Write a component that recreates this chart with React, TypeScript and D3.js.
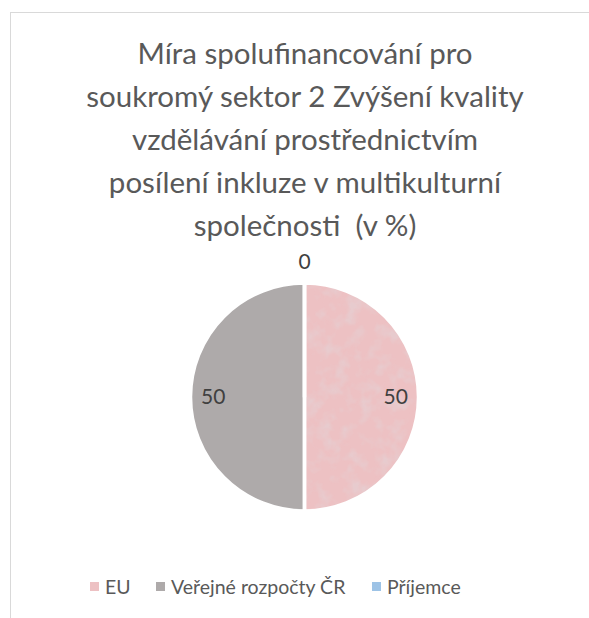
import { useEffect, useRef } from "react"
import * as d3 from "d3"

const titleLines = [
  "Míra spolufinancování pro",
  "soukromý sektor 2 Zvýšení kvality",
  "vzdělávání prostřednictvím",
  "posílení inkluze v multikulturní",
  "společnosti  (v %)",
]
const categories = ["EU", "Veřejné rozpočty ČR", "Příjemce"]
const values = [50, 50, 0]
const colors = ["#edc1c3", "#aeaaaa", "#9dc3e6"]

const W = 589
const H = 618

export default function App() {
  const svgRef = useRef<SVGSVGElement>(null)

  useEffect(() => {
    if (!svgRef.current) return
    const svg = d3.select(svgRef.current)
    svg.selectAll("*").remove()

    const font = "Lato, 'Open Sans', sans-serif"

    // textura pro EU
    const defs = svg.append("defs")
    const filter = defs.append("filter").attr("id", "tex").attr("x", 0).attr("y", 0).attr("width", 1).attr("height", 1)
    filter
      .append("feTurbulence")
      .attr("type", "fractalNoise")
      .attr("baseFrequency", 0.07)
      .attr("numOctaves", 3)
      .attr("seed", 4)
      .attr("result", "noise")
    filter
      .append("feColorMatrix")
      .attr("in", "noise")
      .attr("type", "matrix")
      .attr("values", "0 0 0 0 0.80  0 0 0 0 0.60  0 0 0 0 0.62  0 0 0 -2.6 1.45")
      .attr("result", "spots")
    filter.append("feComposite").attr("in", "spots").attr("in2", "SourceGraphic").attr("operator", "in").attr("result", "clip")
    const merge = filter.append("feMerge")
    merge.append("feMergeNode").attr("in", "SourceGraphic")
    merge.append("feMergeNode").attr("in", "clip")

    // rámeček
    svg
      .append("rect")
      .attr("x", 10.5)
      .attr("y", 12.5)
      .attr("width", W + 20)
      .attr("height", H + 20)
      .attr("fill", "#fff")
      .attr("stroke", "#d9d9d9")
      .attr("stroke-width", 1)

    // titulek
    svg
      .append("g")
      .selectAll("text")
      .data(titleLines)
      .enter()
      .append("text")
      .attr("x", 305)
      .attr("y", (d, i) => 64 + i * 43)
      .attr("text-anchor", "middle")
      .attr("fill", "#595959")
      .style("font-family", font)
      .style("font-size", "29.5px")
      .style("white-space", "pre")
      .text((d) => d)

    const cx = 304.5
    const cy = 397
    const radius = 114

    const pie = d3.pie<number>().value((d) => d).sort(null)
    const arcs = pie(values)
    const arc = d3.arc<d3.PieArcDatum<number>>().innerRadius(0).outerRadius(radius)
    const labelArc = d3.arc<d3.PieArcDatum<number>>().innerRadius(radius * 0.8).outerRadius(radius * 0.8)

    const g = svg.append("g").attr("transform", `translate(${cx},${cy})`)

    g.selectAll("path.slice")
      .data(arcs)
      .enter()
      .append("path")
      .attr("class", "slice")
      .attr("d", arc)
      .attr("fill", (d, i) => colors[i])
      .attr("filter", (d, i) => (i === 0 ? "url(#tex)" : null))

    g.selectAll("path.edge")
      .data(arcs)
      .enter()
      .append("path")
      .attr("class", "edge")
      .attr("d", arc)
      .attr("fill", "none")
      .attr("stroke", "#fff")
      .attr("stroke-width", 3.5)
      .attr("stroke-linejoin", "round")

    g.selectAll("text.lbl")
      .data(arcs)
      .enter()
      .append("text")
      .attr("class", "lbl")
      .attr("transform", (d) => {
        if (d.data === 0) {
          const a = d.startAngle
          return `translate(${(radius + 21) * Math.sin(a)},${-(radius + 21) * Math.cos(a) + 7})`
        }
        const [x, y] = labelArc.centroid(d)
        return `translate(${x},${y + 7})`
      })
      .attr("text-anchor", "middle")
      .attr("fill", "#404040")
      .style("font-family", font)
      .style("font-size", "21px")
      .text((d) => String(d.data))

    // legenda
    const legendX = [90, 156, 372]
    const legend = svg
      .append("g")
      .selectAll("g")
      .data(categories)
      .enter()
      .append("g")
      .attr("transform", (d, i) => `translate(${legendX[i]},587)`)
    legend
      .append("rect")
      .attr("x", 0)
      .attr("y", -5)
      .attr("width", 9)
      .attr("height", 9)
      .attr("fill", (d, i) => colors[i])
    legend
      .append("text")
      .attr("x", 15)
      .attr("y", 7)
      .attr("fill", "#595959")
      .style("font-family", font)
      .style("font-size", "19.5px")
      .text((d) => d)
  }, [])

  return (
    <div style={{ position: "absolute", left: 0, top: 0, width: W, height: H, overflow: "hidden" }}>
      <svg ref={svgRef} width={W} height={H} />
    </div>
  )
}
